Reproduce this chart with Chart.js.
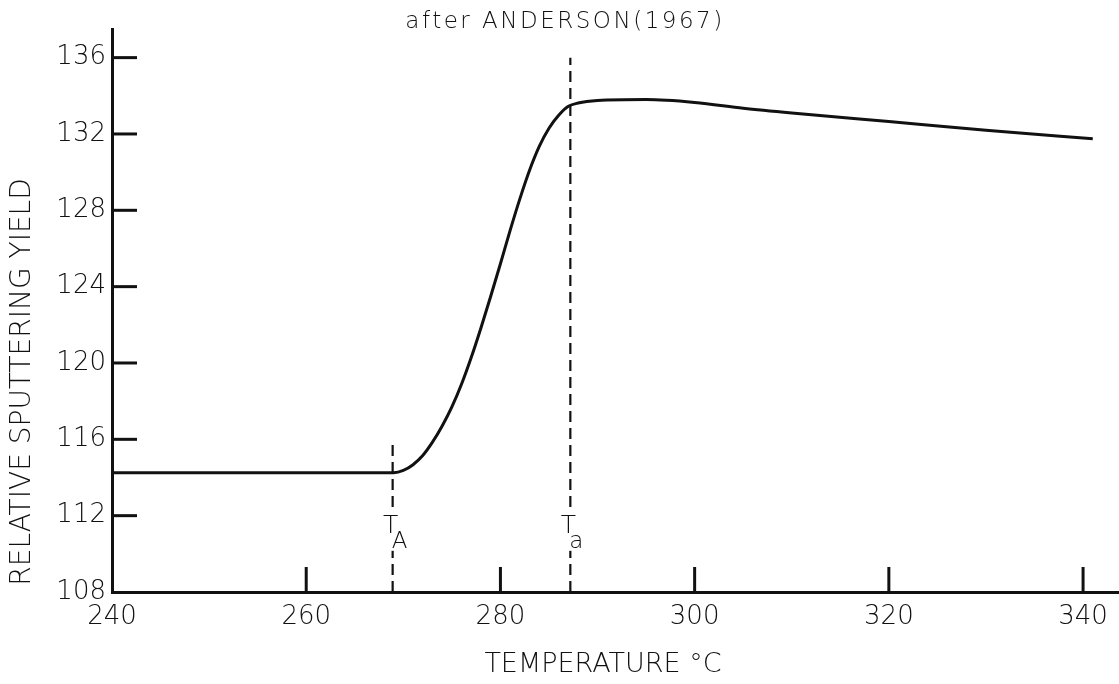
<!DOCTYPE html>
<html>
<head>
<meta charset="utf-8">
<title>Relative sputtering yield vs temperature</title>
<script src="https://cdn.jsdelivr.net/npm/chart.js@4/dist/chart.umd.min.js"></script>
<style>
  html, body { margin: 0; padding: 0; background: #fff; }
</style>
</head>
<body>
<canvas id="yieldChart" width="1119" height="684"></canvas>
<script>
// yield curve (temperature in deg C)
const temps = [240, 269, 270, 271, 272, 273, 274, 275, 276, 277, 278, 279, 280, 281, 282, 283, 284, 285, 286, 287, 288, 290, 295, 300, 305, 310, 320, 330, 341];
const yields = [114.25, 114.25, 114.37, 114.67, 115.15, 115.85, 116.7, 117.7, 118.9, 120.3, 121.85, 123.5, 125.2, 126.95, 128.6, 130.1, 131.35, 132.3, 132.98, 133.45, 133.62, 133.75, 133.8, 133.65, 133.35, 133.1, 132.65, 132.2, 131.75];

const xTicks = [240, 260, 280, 300, 320, 340];
const yTicks = [108, 112, 116, 120, 124, 128, 132, 136];

// transition temperatures T_A and T_a
const markerTemps = [268.9, 287.2];
const markerTops = [116, 136];
const markerSubs = ['A', 'a'];

const FONT = "'DejaVu Sans', sans-serif";
const INK = '#111';

function pts(xs, ys) {
    return xs.map((x, i) => ({ x: x, y: ys[i] }));
}

const markerSets = markerTemps.map((t, i) => ({
    data: pts([t, t], [108, markerTops[i]]),
    borderColor: INK,
    borderWidth: 2.2,
    borderDash: [11, 6],
    pointRadius: 0,
    fill: false
}));

// inward tick marks, axis titles and T labels
const decor = {
    id: 'decor',
    afterDraw(chart) {
        const c = chart.ctx;
        const xs = chart.scales.x, ys = chart.scales.y;
        const area = chart.chartArea;
        c.save();
        c.strokeStyle = INK;
        c.lineWidth = 3;
        c.lineCap = 'butt';
        yTicks.slice(1).forEach(v => {
            const py = ys.getPixelForValue(v);
            c.beginPath(); c.moveTo(area.left, py); c.lineTo(area.left + 25, py); c.stroke();
        });
        xTicks.slice(1).forEach(v => {
            const px = xs.getPixelForValue(v);
            c.beginPath(); c.moveTo(px, area.bottom); c.lineTo(px, area.bottom - 25); c.stroke();
        });

        markerTemps.forEach((t, i) => {
            const px = xs.getPixelForValue(t);
            const base = ys.getPixelForValue(111.1);
            c.fillStyle = '#fff';
            c.fillRect(px - 14, base - 24, 36, 42);
            c.fillStyle = INK;
            c.font = '300 25px ' + FONT;
            c.textAlign = 'center';
            c.textBaseline = 'alphabetic';
            c.fillText('T', px - 2, base);
            c.font = '300 23px ' + FONT;
            c.textAlign = 'left';
            c.fillText(markerSubs[i], px - 1, base + 15);
        });

        c.fillStyle = INK;
        c.textAlign = 'center';
        c.textBaseline = 'middle';
        c.letterSpacing = '2.5px';
        c.font = '300 23px ' + FONT;
        c.fillText('after ANDERSON(1967)', 565, 22);
        c.letterSpacing = '0px';
        c.font = '300 27px ' + FONT;
        c.fillText('TEMPERATURE °C', 603, 665);
        c.translate(23, 382);
        c.rotate(-Math.PI / 2);
        c.font = '300 28px ' + FONT;
        c.fillText('RELATIVE SPUTTERING YIELD', 0, 0);
        c.restore();
    }
};

const chart = new Chart(document.getElementById('yieldChart'), {
    type: 'line',
    data: {
        datasets: [{
            data: pts(temps, yields),
            borderColor: INK,
            borderWidth: 3,
            pointRadius: 0,
            cubicInterpolationMode: 'monotone',
            fill: false
        }].concat(markerSets)
    },
    options: {
        responsive: false,
        animation: false,
        layout: { padding: { top: 29, right: 0, left: 0, bottom: 0 } },
        plugins: { legend: { display: false }, tooltip: { enabled: false } },
        scales: {
            x: {
                type: 'linear',
                min: 240,
                max: 343.7,
                afterBuildTicks: s => { s.ticks = xTicks.map(v => ({ value: v })); },
                afterFit: s => { s.height = 92; },
                grid: { display: false, drawTicks: false },
                border: { color: INK, width: 3 },
                ticks: { color: INK, padding: 10, font: { family: FONT, size: 26, weight: '300' } }
            },
            y: {
                min: 108,
                max: 137.5,
                afterBuildTicks: s => { s.ticks = yTicks.map(v => ({ value: v })); },
                afterFit: s => { s.width = 112; },
                grid: { display: false, drawTicks: false },
                border: { color: INK, width: 3 },
                ticks: { color: INK, padding: 6, font: { family: FONT, size: 26, weight: '300' } }
            }
        }
    },
    plugins: [decor]
});
</script>
</body>
</html>
